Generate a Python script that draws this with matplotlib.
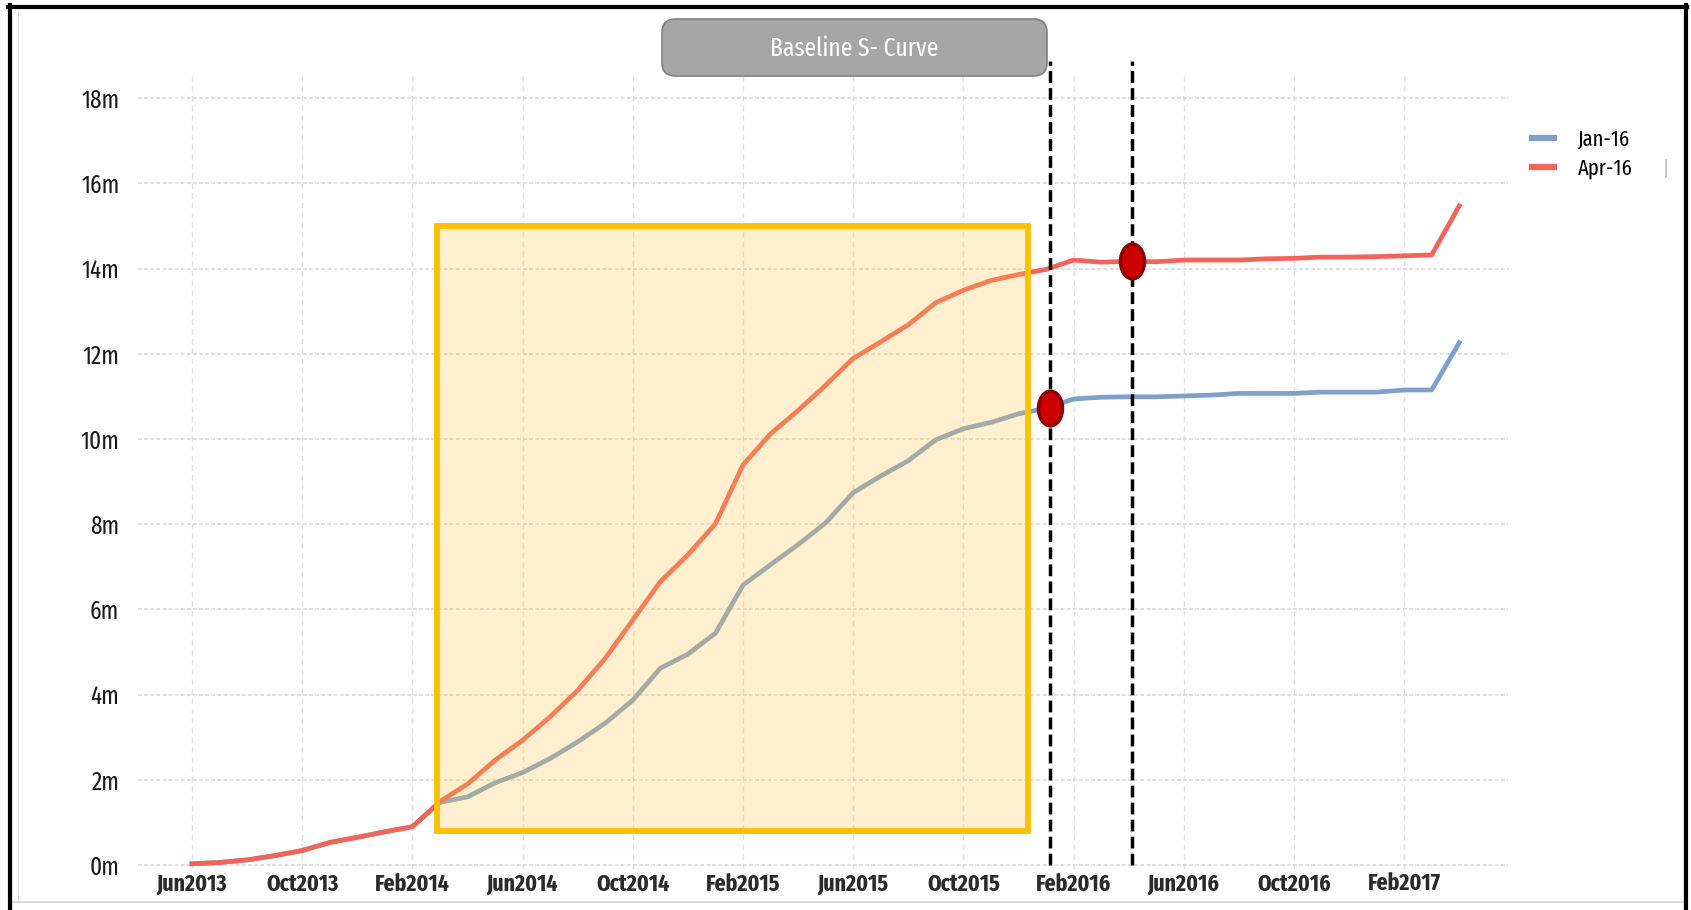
import matplotlib
matplotlib.use("Agg")
import matplotlib.pyplot as plt
from matplotlib import font_manager
from matplotlib.patches import Rectangle, FancyBboxPatch
from matplotlib.lines import Line2D
from matplotlib.path import Path
import numpy as np

# ---- data -------------------------------------------------------------
# monthly cumulative values (millions), Jun2013 .. Apr2017
months = list(range(47))
jan16 = [0.03, 0.06, 0.12, 0.22, 0.34, 0.53, 0.65, 0.78, 0.90, 1.47,
         1.60, 1.93, 2.17, 2.50, 2.89, 3.33, 3.87, 4.62, 4.95, 5.44,
         6.57, 7.05, 7.52, 8.03, 8.74, 9.13, 9.49, 9.98, 10.24, 10.39,
         10.59, 10.72, 10.94, 10.98, 10.99, 10.99, 11.01, 11.03, 11.07, 11.07,
         11.07, 11.10, 11.10, 11.10, 11.15, 11.15, 12.26]
apr16 = [0.03, 0.06, 0.12, 0.22, 0.34, 0.53, 0.65, 0.78, 0.90, 1.49,
         1.90, 2.46, 2.93, 3.48, 4.10, 4.85, 5.75, 6.65, 7.28, 8.01,
         9.39, 10.12, 10.67, 11.26, 11.89, 12.28, 12.68, 13.20, 13.49, 13.72,
         13.86, 13.98, 14.20, 14.15, 14.17, 14.16, 14.20, 14.20, 14.20, 14.23,
         14.24, 14.27, 14.27, 14.28, 14.30, 14.32, 15.47]
series_labels = ["Jan-16", "Apr-16"]

tick_pos = [0, 4, 8, 12, 16, 20, 24, 28, 32, 36, 40, 44]
tick_labels = ["Jun2013", "Oct2013", "Feb2014", "Jun2014", "Oct2014", "Feb2015",
               "Jun2015", "Oct2015", "Feb2016", "Jun2016", "Oct2016", "Feb2017"]
y_ticks = [0, 2, 4, 6, 8, 10, 12, 14, 16, 18]
y_labels = [f"{v}m" for v in y_ticks]

# status dates (month index) and values at those dates
status_x = [31.13, 34.13]
status_y = [10.72, 14.18]

# highlighted window (month index range, value range)
window_x = (8.89, 30.33)
window_y = (0.8, 15.0)

# ---- fonts --------------------------------------------------------------
names = {f.name for f in font_manager.fontManager.ttflist}

def pick(*cands):
    for c in cands:
        if c in names:
            return c
    return "DejaVu Sans"

TXT_FONT = pick("Fira Sans Extra Condensed", "Fira Sans Condensed", "Carlito")
TICK_FONT = pick("Fira Sans Extra Condensed", "PT Sans Narrow", "Liberation Sans")
plt.rcParams["font.family"] = [TXT_FONT, "DejaVu Sans"]

BLUE = "#7FA0C8"
RED = "#F0645A"
GRID = "#d6d6d6"

W, H = 1691, 910
fig = plt.figure(figsize=(W / 100, H / 100), dpi=100)
fig.patch.set_facecolor("white")

def fx(px):
    return px / W

def fy(py):
    return 1 - py / H

ax = fig.add_axes([fx(138), fy(869.3), fx(1508) - fx(138), fy(72.6) - fy(869.3)])
ax.set_xlim(-1.96, 47.77)
ax.set_ylim(-0.1, 18.6)
for s in ax.spines.values():
    s.set_visible(False)

ax.set_xticks(tick_pos)
ax.set_xticklabels(tick_labels, fontsize=17, fontweight="bold", color="#2a2a2a",
                   family=[TICK_FONT, "DejaVu Sans"])
ax.set_yticks(y_ticks)
ax.set_yticklabels(y_labels, fontsize=18, color="#1a1a1a")
ax.tick_params(axis="both", length=0)
ax.tick_params(axis="x", pad=2.5)
ax.tick_params(axis="y", pad=13.5)

ax.grid(True, axis="y", color=GRID, lw=1.1, linestyle=(0, (2.5, 1.5)))
ax.grid(True, axis="x", color="#e0e0e0", lw=1.0, linestyle=(0, (4, 3)))
ax.set_axisbelow(True)

lw_series = 3.4
ax.plot(months, jan16, color=BLUE, lw=lw_series, zorder=3, solid_joinstyle="round")
ax.plot(months, apr16, color=RED, lw=lw_series, zorder=3.1, solid_joinstyle="round")

# translucent highlight window over the curves
wx0, wx1 = window_x
wy0, wy1 = window_y
ax.add_patch(Rectangle((wx0, wy0), wx1 - wx0, wy1 - wy0,
                       facecolor=(1.0, 0.784, 0.314, 0.28), edgecolor="none", zorder=4))
ax.add_patch(Rectangle((wx0, wy0), wx1 - wx0, wy1 - wy0,
                       facecolor="none", edgecolor="#FFC000", lw=4.2, zorder=4.5,
                       joinstyle="miter"))

# status date lines
for x in status_x:
    ax.plot([x, x], [0, 18.87], color="black", lw=2.5, dashes=(3.4, 1.5),
            clip_on=False, zorder=5)

# elliptical status markers
ell = Path.unit_circle()
ell = Path(ell.vertices * np.array([0.69, 1.0]), ell.codes)
ax.plot(status_x, status_y, linestyle="none", marker=ell, markersize=25,
        markerfacecolor="#CC0000", markeredgecolor="#8B0000", markeredgewidth=2.5,
        zorder=6)

# legend
handles = [Line2D([], [], color=BLUE, lw=4.5), Line2D([], [], color=RED, lw=4.5)]
fig.legend(handles, series_labels, loc="upper left",
           bbox_to_anchor=(fx(1532), fy(129)), frameon=False, fontsize=16,
           handlelength=1.0, handletextpad=1.05, labelspacing=0.32,
           borderaxespad=0, borderpad=0)

# title box
fig.patches.append(FancyBboxPatch((fx(662), fy(76)), fx(1047) - fx(662), fy(19) - fy(76),
                                  boxstyle="round,pad=0,rounding_size=0.008",
                                  transform=fig.transFigure, facecolor="#A6A6A6",
                                  edgecolor="#808080", lw=1.2, zorder=10,
                                  mutation_aspect=W / H))
fig.text(fx(854), fy(49), "Baseline S- Curve", ha="center", va="center",
         fontsize=18.5, color="white", zorder=11)

# outer frame
frame_kw = dict(transform=fig.transFigure, color="black", zorder=20)
fig.lines.append(Line2D([fx(8), fx(1687)], [fy(6.5), fy(6.5)], lw=3.0, **frame_kw))
fig.lines.append(Line2D([fx(10), fx(10)], [fy(5), fy(910)], lw=3.0, **frame_kw))
fig.lines.append(Line2D([fx(1686), fx(1686)], [fy(5), fy(910)], lw=3.0, **frame_kw))
fig.lines.append(Line2D([fx(18), fx(18)], [fy(10), fy(900)], lw=0.8,
                        transform=fig.transFigure, color="#dcdcdc", zorder=19))
fig.lines.append(Line2D([fx(12), fx(1684)], [fy(902), fy(902)], lw=1.5,
                        transform=fig.transFigure, color="#d9d9d9", zorder=19))
fig.lines.append(Line2D([fx(1666), fx(1666)], [fy(160), fy(177)], lw=1.2,
                        transform=fig.transFigure, color="#bdbdbd", zorder=19))

fig.savefig("out.png", dpi=100)
